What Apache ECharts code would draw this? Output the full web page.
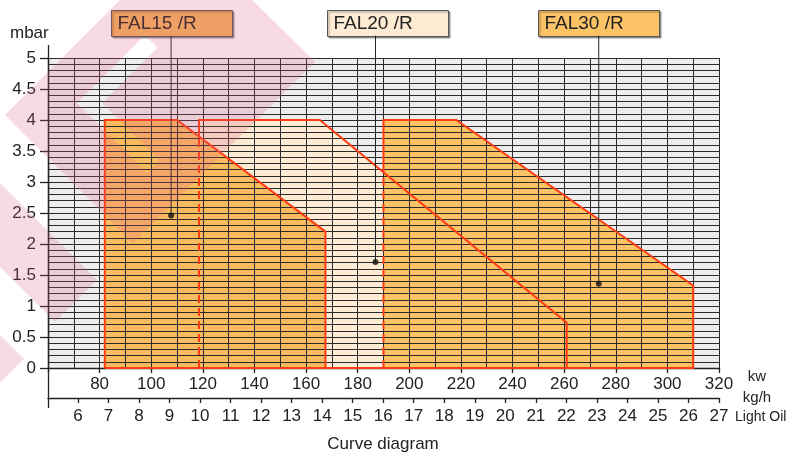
<!DOCTYPE html>
<html><head><meta charset="utf-8">
<script src="https://cdn.jsdelivr.net/npm/echarts@6/dist/echarts.min.js"></script>
<style>html,body{margin:0;padding:0;background:#fff}#c{width:790px;height:452px}</style>
</head><body><div id="c"></div>
<script>
// ---- data ----
const kwRange = [60, 320];
const kgRange = [5.02, 27];
const kgTicks = [6,7,8,9,10,11,12,13,14,15,16,17,18,19,20,21,22,23,24,25,26,27];
const pressureRange = [0, 5];
const names = ['FAL15 /R', 'FAL20 /R', 'FAL30 /R'];
const fal15 = [[82,0],[82,4],[110,4],[167.5,2.2],[167.5,0]];
const fal20 = [[118.5,0],[118.5,4],[165.3,4],[261,0.73],[261,0]];
const fal30 = [[190,0],[190,4],[218.2,4],[310,1.33],[310,0]];
const fal20DashTop = 3.73;   // where FAL20 left edge leaves FAL15
const fal30DashTop = 3.16;   // where FAL30 left edge leaves FAL20
const labelPoints = [[107.7,2.46],[186.9,1.71],[273.4,1.36]];
const leaderTop = 5.36;

const RED = '#ff3c12';
const fills = [
  {pts: fal20, color: '#fdebd3'},
  {pts: fal15, color: '#f9bb5f'},
  {pts: fal30, color: '#fbc266'}
];
function close(p){ return p.concat([p[0]]); }
const borders = [
  {pts: close(fal15), dash: null},
  {pts: [[fal20[0][0], fal20DashTop]].concat(fal20.slice(1)).concat([fal20[0]]), dash: null},
  {pts: [fal20[0], [fal20[0][0], fal20DashTop]], dash: [8,5]},
  {pts: [[fal30[0][0], fal30DashTop]].concat(fal30.slice(1)).concat([fal30[0]]), dash: null},
  {pts: [fal30[0], [fal30[0][0], fal30DashTop]], dash: [8,5]}
];

const FONT = 'Liberation Sans, Arial, sans-serif';
const TXT = '#222';
const GRIDLINE = '#2a2a2a';

const chart = echarts.init(document.getElementById('c'));
const series = [
  {
    type: 'custom', z: 1, silent: true,
    data: fills.map(f => f.pts[0]),
    renderItem: (params, api) => ({
      type: 'polygon',
      shape: {points: fills[params.dataIndex].pts.map(p => api.coord(p))},
      style: {fill: fills[params.dataIndex].color}
    })
  },
  {
    type: 'custom', z: 5, silent: true,
    data: borders.map(b => b.pts[0]),
    renderItem: (params, api) => {
      const b = borders[params.dataIndex];
      return {
        type: 'polyline',
        shape: {points: b.pts.map(p => api.coord(p))},
        style: {stroke: RED, lineWidth: 2, fill: null, lineDash: b.dash || null}
      };
    }
  }
];
labelPoints.forEach(p => {
  series.push({
    type: 'line', z: 6, clip: false, silent: true, symbol: 'none',
    data: [p, [p[0], leaderTop]],
    lineStyle: {color: '#222', width: 1}
  });
});
series.push({
  type: 'scatter', z: 7, silent: true, symbolSize: 6,
  itemStyle: {color: '#111'}, data: labelPoints
});

// label boxes (x, width in px; aligned to leaders)
const boxes = [
  {x: 111, w: 121, fill: '#f3b45e'},
  {x: 327, w: 121, fill: '#fdebd3'},
  {x: 538, w: 121, fill: '#fbc266'}
];
const graphics = [];
boxes.forEach((b, i) => {
  graphics.push({
    type: 'group', left: b.x, top: 10, z: 8,
    children: [
      {type: 'rect', shape: {x: 0, y: 0, width: b.w, height: 26},
       style: {fill: b.fill, stroke: '#555', lineWidth: 1, shadowColor: 'rgba(0,0,0,0.35)', shadowOffsetX: 1.5, shadowOffsetY: 1.5, shadowBlur: 1}},
      {type: 'text', x: 6, y: 13.5, style: {text: names[i], font: '19px ' + FONT, fill: TXT, verticalAlign: 'middle'}}
    ]
  });
});
// watermark (decorative logo): outer rotated block with a chevron notch (slit polygon)
const pink = 'rgba(222,90,125,0.22)';
const wmLogo = [[5,115],[186,-66],[315,62],[133,243],[5,115],
  [77,103],[147,173],[159.5,160.5],[102,103],[157.5,47.5],[145,35],[77,103]];
const wmBars = [
  [[0,183],[97,280],[55,322],[0,267]],
  [[0,335],[24,359],[0,383]]
];
graphics.push({type: 'polygon', z: 100, silent: true, shape: {points: wmLogo}, style: {fill: pink}});
wmBars.forEach(pts => graphics.push({type: 'polygon', z: 100, silent: true, shape: {points: pts}, style: {fill: pink}}));
// y axis line extension and unit texts
graphics.push({type: 'line', z: 9, shape: {x1: 48.5, y1: 45, x2: 48.5, y2: 408}, style: {stroke: '#222', lineWidth: 1.3}});
graphics.push({type: 'text', x: 10, y: 33, style: {text: 'mbar', font: '17px ' + FONT, fill: TXT, verticalAlign: 'middle'}});
graphics.push({type: 'text', x: 757, y: 377, style: {text: 'kw', font: '15px ' + FONT, fill: TXT, align: 'center', verticalAlign: 'middle'}});
graphics.push({type: 'text', x: 757, y: 398, style: {text: 'kg/h', font: '15px ' + FONT, fill: TXT, align: 'center', verticalAlign: 'middle'}});
graphics.push({type: 'text', x: 735, y: 417, style: {text: 'Light Oil', font: '14px ' + FONT, fill: TXT, verticalAlign: 'middle'}});
graphics.push({type: 'text', x: 383, y: 444, style: {text: 'Curve diagram', font: '17px ' + FONT, fill: TXT, align: 'center', verticalAlign: 'middle'}});

chart.setOption({
  animation: false,
  grid: {left: 48, right: 71, top: 58, bottom: 84, show: true, backgroundColor: '#ededed', borderWidth: 0, z: 0},
  xAxis: [
    {
      type: 'value', min: kwRange[0], max: kwRange[1], interval: 20, position: 'bottom', z: 3,
      axisLine: {show: true, lineStyle: {color: TXT, width: 1.3}},
      axisTick: {show: true, length: 5, lineStyle: {color: TXT, width: 1.3}},
      axisLabel: {formatter: v => v === kwRange[0] ? '' : String(v), fontSize: 17, fontFamily: FONT, color: TXT, margin: 8},
      splitLine: {show: true, lineStyle: {color: GRIDLINE, width: 1}},
      minorTick: {show: false, splitNumber: 2},
      minorSplitLine: {show: true, lineStyle: {color: GRIDLINE, width: 1}}
    },
    {
      type: 'value', min: kgRange[0], max: kgRange[1], position: 'bottom', offset: 30, z: 3,
      axisLine: {show: true, onZero: false, lineStyle: {color: TXT, width: 1.3}},
      axisTick: {show: true, length: 5, customValues: kgTicks, lineStyle: {color: TXT, width: 1.3}},
      axisLabel: {customValues: kgTicks, fontSize: 17, fontFamily: FONT, color: TXT, margin: 10},
      splitLine: {show: false}
    }
  ],
  yAxis: {
    type: 'value', min: pressureRange[0], max: pressureRange[1], interval: 0.5, z: 3,
    axisLine: {show: true, lineStyle: {color: TXT, width: 1.3}},
    axisTick: {show: true, length: 8, lineStyle: {color: TXT, width: 1.3}},
    axisLabel: {fontSize: 17, fontFamily: FONT, color: TXT, margin: 12},
    splitLine: {show: true, lineStyle: {color: GRIDLINE, width: 1}},
    minorTick: {show: false, splitNumber: 5},
    minorSplitLine: {show: true, lineStyle: {color: GRIDLINE, width: 1}}
  },
  series: series,
  graphic: graphics
});
</script></body></html>
